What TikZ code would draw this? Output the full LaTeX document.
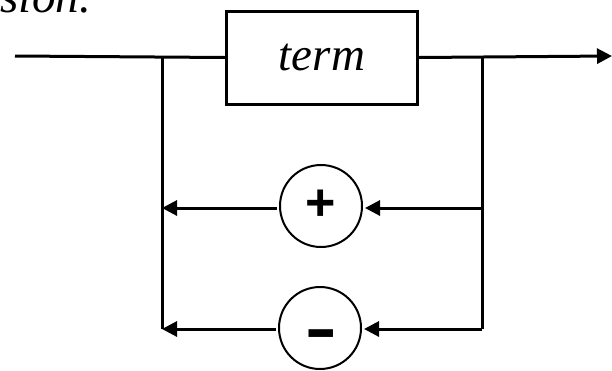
\documentclass[tikz,border=0pt]{standalone}
\usepackage{fontspec}
\setmainfont{Liberation Serif}
\newfontfamily\symfont{Liberation Sans}
\usetikzlibrary{arrows.meta}
\tikzset{
  wire/.style={line width=3pt},
  flow/.style={line width=3pt,-{Triangle[length=15pt,width=15pt]}},
  termbox/.style={draw,line width=3pt,minimum width=191pt,minimum height=93pt,inner sep=0pt,
    font=\fontsize{47}{50}\selectfont\itshape},
  opcircle/.style={draw,circle,line width=2pt,minimum size=82pt,inner sep=0pt,outer sep=3pt},
  opsign/.style={inner sep=0pt,font=\symfont\bfseries\fontsize{52}{56}\selectfont},
}
\begin{document}
\begin{tikzpicture}[x=1pt,y=-1pt]
\useasboundingbox (0,0) rectangle (612,370);
\node[anchor=base east,inner sep=0pt,font=\fontsize{47}{50}\selectfont\itshape] (title) at (91,12) {sion.};
\coordinate (start) at (15,56);
\coordinate (stop) at (612,56);
\node[termbox] (term) at (322,57.5) {term};
\coordinate (jl1) at (162,56);
\coordinate (jr1) at (482,56);
\coordinate (jl2) at (162,208);
\coordinate (jr2) at (482,208);
\coordinate (jl3) at (162,329);
\coordinate (jr3) at (482,329);
\node[opcircle] (plus) at (321,206) {};
\node[opsign] (plussign) at (321,205) {+};
\node[opcircle] (minus) at (320,328) {};
\node[opsign] (minussign) at (321,342) {\scalebox{0.95}[1.5]{–}};
\draw[wire] (start) -- (term.west);
\draw[flow] (term.east) -- (stop);
\draw[wire] (jl1) -- (jl3);
\draw[wire] (jr1) -- (jr3);
\draw[flow] (jr2) -- (plus.east |- jr2);
\draw[flow] (plus.west |- jl2) -- (jl2);
\draw[flow] (jr3) -- (minus.east |- jr3);
\draw[flow] (minus.west |- jl3) -- (jl3);
\end{tikzpicture}
\end{document}
